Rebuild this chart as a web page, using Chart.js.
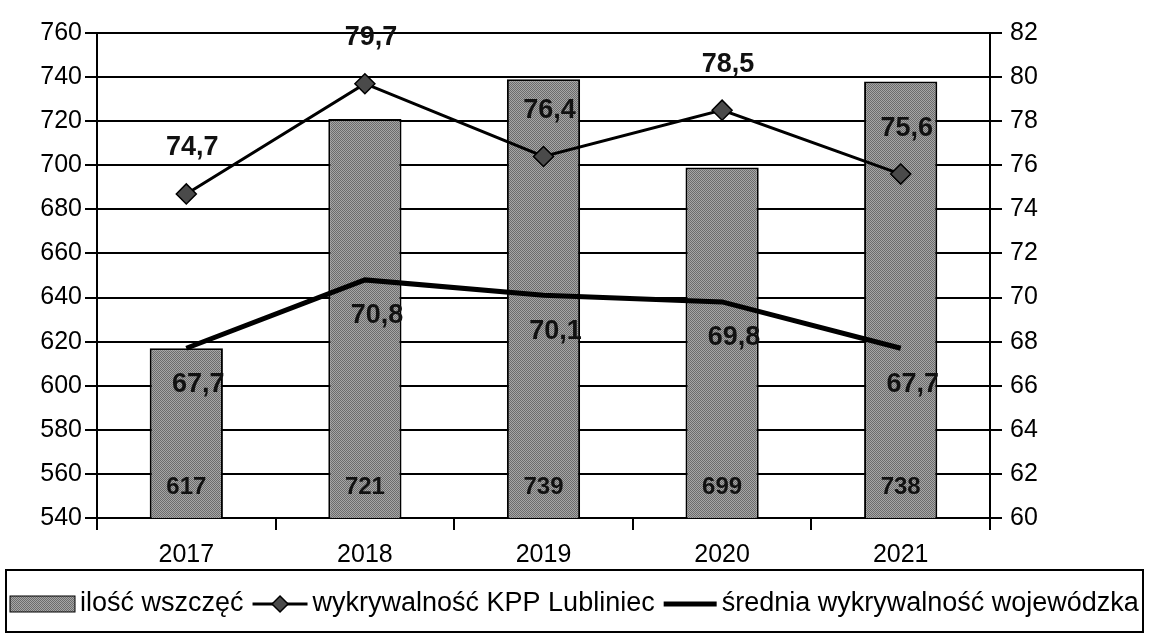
<!DOCTYPE html>
<html>
<head>
<meta charset="utf-8">
<script src="https://cdn.jsdelivr.net/npm/chart.js@4.4.1/dist/chart.umd.min.js"></script>
<style>
  html, body { margin: 0; padding: 0; background: #fff; }
</style>
</head>
<body>
<canvas id="wykres" width="1151" height="641"></canvas>
<script>
var lata = ['2017', '2018', '2019', '2020', '2021'];
var wszczecia = [617, 721, 739, 699, 738];
var wykrywalnoscKPP = [74.7, 79.7, 76.4, 78.5, 75.6];
var sredniaWoj = [67.7, 70.8, 70.1, 69.8, 67.7];

var lewaMin = 540, lewaMax = 760, lewaKrok = 20;
var prawaMin = 60, prawaMax = 82, prawaKrok = 2;

var FONT = '"Liberation Sans", Arial, sans-serif';
Chart.defaults.font.family = FONT;
Chart.defaults.color = '#000';

var canvas = document.getElementById('wykres');
var ctx = canvas.getContext('2d');

// drobny raster jak na skanie
function raster() {
  var c = document.createElement('canvas');
  c.width = 2; c.height = 2;
  var g = c.getContext('2d');
  g.fillStyle = '#a6a6a6';
  g.fillRect(0, 0, 2, 2);
  g.fillStyle = '#6c6c6c';
  g.fillRect(0, 0, 1, 1);
  g.fillRect(1, 1, 1, 1);
  return ctx.createPattern(c, 'repeat');
}
var szary = raster();

function przecinek(v) {
  return String(v).replace('.', ',');
}

// etykiety wartosci
var etykiety = {
  id: 'etykiety',
  afterDatasetsDraw: function (chart) {
    var c = chart.ctx;
    c.save();
    c.textAlign = 'center';
    c.textBaseline = 'middle';
    c.fillStyle = '#111';
    chart.data.datasets.forEach(function (ds, i) {
      var meta = chart.getDatasetMeta(i);
      var opt = ds.etykieta;
      c.font = 'bold ' + opt.rozmiar + 'px ' + FONT;
      meta.data.forEach(function (el, j) {
        var y = opt.odDolu ? chart.chartArea.bottom - opt.odDolu : el.y + opt.dy;
        c.fillText(przecinek(ds.data[j]), el.x + opt.dx, y);
      });
    });
    c.restore();
  }
};

// legenda w ramce
var legenda = {
  id: 'legenda',
  afterDraw: function (chart) {
    var c = chart.ctx;
    var top = 570, bottom = 632, y = 604;
    c.save();
    c.lineWidth = 2;
    c.strokeStyle = '#000';
    c.strokeRect(6, top, 1137, bottom - top);
    c.font = '27px ' + FONT;
    c.textBaseline = 'middle';
    c.textAlign = 'left';
    var szer = [65, 55, 53];
    var x = 10;
    chart.data.datasets.forEach(function (ds, i) {
      var w = szer[i];
      if (i === 0) {
        c.fillStyle = ds.backgroundColor;
        c.fillRect(x, y - 8, w, 16);
        c.lineWidth = 1;
        c.strokeRect(x, y - 8, w, 16);
      } else {
        c.beginPath();
        c.lineWidth = ds.borderWidth;
        c.moveTo(x, y);
        c.lineTo(x + w, y);
        c.stroke();
        if (ds.pointRadius > 0) {
          var r = 8, cx = x + w / 2;
          c.beginPath();
          c.moveTo(cx - r, y);
          c.lineTo(cx, y - r);
          c.lineTo(cx + r, y);
          c.lineTo(cx, y + r);
          c.closePath();
          c.fillStyle = ds.pointBackgroundColor;
          c.fill();
          c.lineWidth = 1.5;
          c.stroke();
        }
      }
      x += w + 5;
      c.fillStyle = '#000';
      c.fillText(ds.label, x, y);
      x += c.measureText(ds.label).width + 9;
    });
    c.restore();
  }
};

new Chart(canvas, {
  type: 'bar',
  data: {
    labels: lata,
    datasets: [{
      label: 'ilość wszczęć',
      data: wszczecia,
      yAxisID: 'y',
      backgroundColor: szary,
      borderColor: '#000',
      borderWidth: 2,
      categoryPercentage: 1,
      barPercentage: 0.41,
      order: 3,
      etykieta: { rozmiar: 24, dx: 0, odDolu: 31 }
    }, {
      type: 'line',
      label: 'wykrywalność KPP Lubliniec',
      data: wykrywalnoscKPP,
      yAxisID: 'y1',
      borderColor: '#000',
      borderWidth: 3,
      pointStyle: 'rectRot',
      pointRadius: 10,
      pointBackgroundColor: '#4a4a4a',
      pointBorderColor: '#000',
      pointBorderWidth: 1.5,
      tension: 0,
      order: 1,
      etykieta: { rozmiar: 27, dx: 6, dy: -46 }
    }, {
      type: 'line',
      label: 'średnia wykrywalność wojewódzka',
      data: sredniaWoj,
      yAxisID: 'y1',
      borderColor: '#000',
      borderWidth: 5,
      pointRadius: 0,
      tension: 0,
      order: 2,
      etykieta: { rozmiar: 27, dx: 12, dy: 36 }
    }]
  },
  options: {
    responsive: false,
    animation: false,
    layout: {
      padding: { top: 33, bottom: 61, left: 0, right: 0 }
    },
    plugins: {
      legend: { display: false },
      tooltip: { enabled: false }
    },
    scales: {
      x: {
        grid: {
          offset: true,
          drawOnChartArea: false,
          color: '#000',
          lineWidth: 2,
          tickLength: 12
        },
        border: { color: '#000', width: 2 },
        ticks: { color: '#000', font: { size: 25 }, padding: 10 }
      },
      y: {
        position: 'left',
        min: lewaMin,
        max: lewaMax,
        ticks: { stepSize: lewaKrok, color: '#000', font: { size: 25 }, padding: 3 },
        grid: { color: '#000', lineWidth: 2, tickLength: 12 },
        border: { color: '#000', width: 2 },
        afterFit: function (s) { s.width = 97; }
      },
      y1: {
        position: 'right',
        min: prawaMin,
        max: prawaMax,
        ticks: { stepSize: prawaKrok, color: '#000', font: { size: 25 }, padding: 8 },
        grid: { drawOnChartArea: false, color: '#000', lineWidth: 2, tickLength: 12 },
        border: { color: '#000', width: 2 },
        afterFit: function (s) { s.width = 161; }
      }
    }
  },
  plugins: [etykiety, legenda]
});
</script>
</body>
</html>
